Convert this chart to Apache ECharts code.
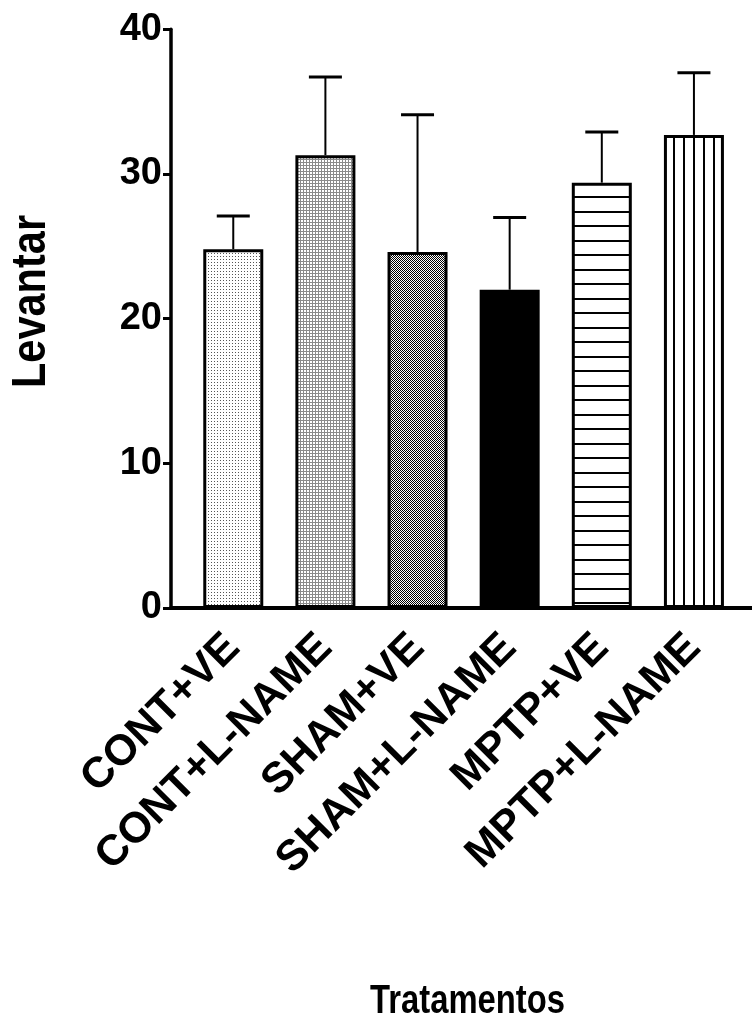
<!DOCTYPE html>
<html>
<head>
<meta charset="utf-8">
<script src="https://cdn.jsdelivr.net/npm/echarts@6/dist/echarts.min.js"></script>
<style>
html,body{margin:0;padding:0;background:#fff;}
#chart{width:752px;height:1025px;}
</style>
</head>
<body>
<div id="chart"></div>
<script>
// ---- data ----
const categories = ['CONT+VE', 'CONT+L-NAME', 'SHAM+VE', 'SHAM+L-NAME', 'MPTP+VE', 'MPTP+L-NAME'];
const means = [24.8, 31.3, 24.6, 22.0, 29.4, 32.7];
const sems = [2.3, 5.4, 9.5, 5.0, 3.5, 4.3];
const yMin = 0, yMax = 40, yInterval = 10;
const yTitle = 'Levantar';
const xTitle = 'Tratamentos';

// ---- fill patterns ----
function makePattern(w, h, draw) {
  const c = document.createElement('canvas');
  c.width = w; c.height = h;
  const g = c.getContext('2d');
  g.fillStyle = '#fff'; g.fillRect(0, 0, w, h);
  draw(g);
  return { image: c, repeat: 'repeat' };
}
const patterns = [
  makePattern(3, 3, g => { g.fillStyle = '#555'; g.fillRect(1, 1, 1, 1); }),
  makePattern(3, 3, g => { g.fillStyle = '#8a8a8a'; g.fillRect(0, 0, 3, 1); g.fillRect(0, 0, 1, 3); }),
  makePattern(2, 2, g => { g.fillStyle = '#000'; g.fillRect(0, 0, 1, 1); g.fillRect(1, 1, 1, 1); }),
  '#000',
  makePattern(4, 29, g => { g.fillStyle = '#000'; g.fillRect(0, 8, 4, 2); g.fillRect(0, 22, 4, 2); }),
  makePattern(10, 4, g => { g.fillStyle = '#000'; g.fillRect(3, 0, 2, 4); })
];

const chart = echarts.init(document.getElementById('chart'), null, { renderer: 'canvas' });
const gridTop = 29.3, gridHeight = 578.7;

const option = {
  backgroundColor: '#fff',
  animation: false,
  grid: [
    { left: 187.2, width: 552.8, top: gridTop, height: gridHeight, outerBoundsMode: 'none', containLabel: false },
    { left: 171, right: 0, top: gridTop, height: gridHeight, outerBoundsMode: 'none', containLabel: false }
  ],
  xAxis: [
    {
      type: 'category', gridIndex: 0, data: categories,
      axisLine: { show: false }, axisTick: { show: false }, splitLine: { show: false },
      axisLabel: {
        interval: 0, rotate: 45, margin: 33, color: '#000',
        fontFamily: "'Liberation Sans', Arial, sans-serif", fontWeight: 'bold', fontSize: 43
      }
    },
    {
      type: 'value', gridIndex: 1, min: 0, max: 1,
      axisLine: { show: true, lineStyle: { color: '#000', width: 4 } },
      axisTick: { show: false }, axisLabel: { show: false }, splitLine: { show: false }
    }
  ],
  yAxis: [
    { type: 'value', gridIndex: 0, min: yMin, max: yMax, interval: yInterval, show: false, splitLine: { show: false } },
    {
      type: 'value', gridIndex: 1, min: yMin, max: yMax, interval: yInterval,
      axisLine: { show: true, lineStyle: { color: '#000', width: 3.5 } },
      axisTick: { show: true, length: 8, lineStyle: { color: '#000', width: 3 } },
      splitLine: { show: false },
      axisLabel: {
        margin: 9, color: '#000', fontWeight: 'bold', fontSize: 38,
        fontFamily: "'Liberation Sans', Arial, sans-serif"
      }
    }
  ],
  series: [
    {
      type: 'custom', xAxisIndex: 0, yAxisIndex: 0, z: 1,
      data: categories.map((c, i) => [i, means[i], means[i] + sems[i]]),
      renderItem: function (params, api) {
        const base = api.coord([api.value(0), api.value(1)]);
        const top = api.coord([api.value(0), api.value(2)]);
        return {
          type: 'group',
          children: [
            { type: 'line', shape: { x1: base[0], y1: base[1], x2: top[0], y2: top[1] }, style: { stroke: '#000', lineWidth: 2 } },
            { type: 'line', shape: { x1: top[0] - 16.5, y1: top[1], x2: top[0] + 16.5, y2: top[1] }, style: { stroke: '#000', lineWidth: 3 } }
          ]
        };
      }
    },
    {
      type: 'bar', xAxisIndex: 0, yAxisIndex: 0, z: 2, barWidth: 60,
      data: means.map((v, i) => ({
        value: v,
        itemStyle: { color: patterns[i], borderColor: '#000', borderWidth: 3 }
      }))
    }
  ],
  graphic: [
    {
      type: 'text', x: 31.5, y: 301.5, rotation: Math.PI / 2, scaleX: 0.865,
      style: {
        text: yTitle, fill: '#000', align: 'center', verticalAlign: 'middle',
        font: "bold 48px 'Liberation Sans', Arial, sans-serif"
      }
    },
    {
      type: 'text', x: 467.5, y: 1002, scaleX: 0.8,
      style: {
        text: xTitle, fill: '#000', align: 'center', verticalAlign: 'middle',
        font: "bold 41px 'Liberation Sans', Arial, sans-serif"
      }
    }
  ]
};
chart.setOption(option);
</script>
</body>
</html>
